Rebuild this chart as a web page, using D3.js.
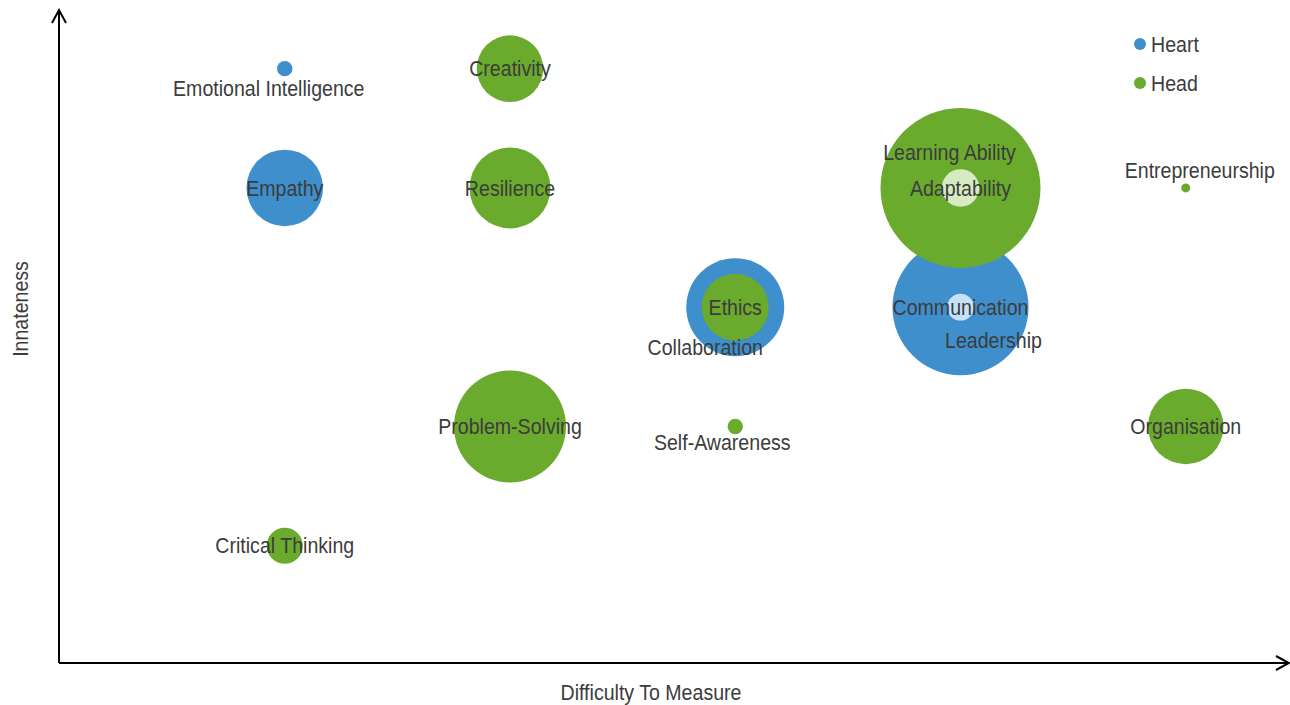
<!DOCTYPE html>
<html>
<head>
<meta charset="utf-8">
<script src="https://cdn.jsdelivr.net/npm/d3@7"></script>
<style>
  html, body { margin: 0; padding: 0; background: #fff; }
  text { font-family: "Liberation Sans", Arial, sans-serif; fill: #3c3c3c; }
</style>
</head>
<body>
<div id="chart"></div>
<script>
// data
var skills = ["Emotional Intelligence", "Empathy", "Collaboration", "Communication", "Leadership",
              "Creativity", "Resilience", "Ethics", "Learning Ability", "Adaptability",
              "Entrepreneurship", "Problem-Solving", "Self-Awareness", "Organisation", "Critical Thinking"];
var series = ["Heart", "Heart", "Heart", "Heart", "Heart",
              "Head", "Head", "Head", "Head", "Head",
              "Head", "Head", "Head", "Head", "Head"];
var difficulty = [1, 1, 3, 4, 4, 2, 2, 3, 4, 4, 5, 2, 3, 5, 1];
var innateness = [5, 4, 3, 3, 3, 5, 4, 3, 4, 4, 4, 2, 2, 2, 1];
var importance = [0.93, 22.9, 37.5, 72.3, 2.8, 17.3, 25.6, 17.5, 100, 5.5, 0.32, 49, 0.93, 22.3, 5.1];
var legendItems = ["Heart", "Head"];

(function () {
    var W = 1290, H = 705;
    var svg = d3.select("#chart")
        .append("svg")
        .attr("width", W)
        .attr("height", H);

    var x = d3.scaleLinear().domain([0, 5.5]).range([59.5, 59.5 + 225.25 * 5.5]);
    var y = d3.scaleLinear().domain([0, 5.5]).range([665, 9]);
    var r = d3.scaleSqrt().domain([0, 100]).range([0, 80]);

    var colour = { Heart: "#3f8fcc", Head: "#6aaa2d" };
    // the two small bubbles that sit inside bigger ones are drawn lighter
    var light = { "Adaptability": "#d6ebc2", "Leadership": "#c5e2fa" };

    // label nudges, px from bubble centre
    var nudge = {
        "Emotional Intelligence": [-16, 20],
        "Self-Awareness": [-13, 16],
        "Entrepreneurship": [14, -18],
        "Collaboration": [-30, 40],
        "Leadership": [33, 33],
        "Learning Ability": [-11, -36]
    };

    var points = skills.map(function (s, i) {
        return { name: s, series: series[i], x: difficulty[i], y: innateness[i], v: importance[i] };
    });

    // blue first, then green, then the light inner ones
    var order = function (d) {
        if (light[d.name]) return 2;
        return d.series == "Heart" ? 0 : 1;
    };
    var sorted = points.slice().sort(function (a, b) { return order(a) - order(b); });

    svg.append("g").selectAll("circle")
        .data(sorted)
        .join("circle")
        .attr("cx", function (d) { return x(d.x); })
        .attr("cy", function (d) { return y(d.y); })
        .attr("r", function (d) { return r(d.v); })
        .attr("fill", function (d) { return light[d.name] || colour[d.series]; });

    function label(px, py, txt, rot) {
        var g = svg.append("g")
            .attr("transform", "translate(" + px + "," + py + ")" + (rot ? " rotate(" + rot + ")" : "") + " scale(0.89,1)");
        return g.append("text")
            .attr("text-anchor", "middle")
            .attr("dy", "0.35em")
            .style("font-size", "22px")
            .text(txt);
    }

    points.forEach(function (d) {
        var n = nudge[d.name] || [0, 0];
        label(x(d.x) + n[0], y(d.y) + n[1], d.name);
    });

    // axes
    var ax = svg.append("g")
        .attr("fill", "none")
        .attr("stroke", "#000")
        .attr("stroke-width", 2);
    var x0 = 59, yb = 663;
    ax.append("path").attr("d", "M" + x0 + "," + yb + "H1289");
    ax.append("path").attr("d", "M1276,656L1289," + yb + "L1276,670");
    ax.append("path").attr("d", "M" + x0 + "," + yb + "V10");
    ax.append("path").attr("d", "M52,23L" + x0 + ",10L66,23");

    label(651, 692, "Difficulty To Measure");
    label(20, 309, "Innateness", -90);

    // legend
    var leg = svg.append("g").selectAll("g")
        .data(legendItems)
        .join("g")
        .attr("transform", function (d, i) { return "translate(1140," + (44 + i * 39) + ")"; });
    leg.append("circle")
        .attr("r", 6)
        .attr("fill", function (d) { return colour[d]; });
    leg.append("g")
        .attr("transform", "translate(11,0) scale(0.89,1)")
        .append("text")
        .attr("dy", "0.35em")
        .style("font-size", "22px")
        .text(function (d) { return d; });
}());
</script>
</body>
</html>
